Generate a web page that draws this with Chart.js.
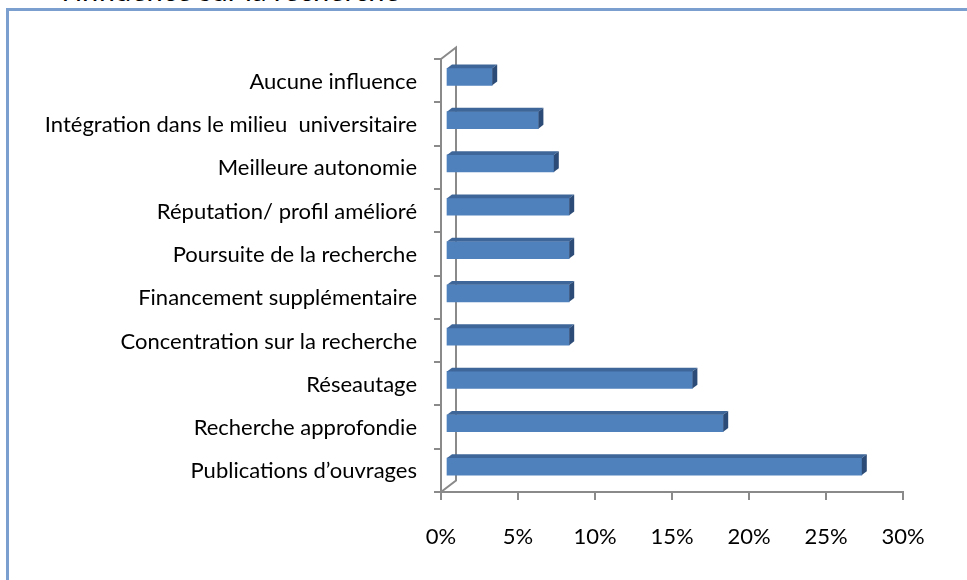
<!DOCTYPE html>
<html>
<head>
<meta charset="utf-8">
<script src="https://cdn.jsdelivr.net/npm/chart.js@4"></script>
<style>
    body { margin: 0; background: #fff; overflow: hidden; }
    #frame { position: absolute; left: 6px; top: 8px; width: 1200px; height: 800px;
             border-left: 3px solid #7b9fcf; border-top: 3px solid #7b9fcf; }
    #title { position: absolute; left: 62px; top: -25px; font: 29px/29px Lato, sans-serif; color: #000; white-space: nowrap; }
    #wrap { position: absolute; left: 0; top: 0; width: 967px; height: 580px; }
</style>
</head>
<body>
<div id="title">l’influence sur la recherche</div>
<div id="frame"></div>
<div id="wrap"><canvas id="myChart"></canvas></div>
<script>
const categories = [
    "Aucune influence",
    "Intégration dans le milieu  universitaire",
    "Meilleure autonomie",
    "Réputation/ profil amélioré",
    "Poursuite de la recherche",
    "Financement supplémentaire",
    "Concentration sur la recherche",
    "Réseautage",
    "Recherche approfondie",
    "Publications d’ouvrages"
];
const percentages = [3, 6, 7, 8, 8, 8, 8, 16, 18, 27];
const xTicks = [0, 5, 10, 15, 20, 25, 30];

const axisGray = '#8a8a8a';
// oblique depth of the 3D plot, and of the bars (one third of it)
const wallDx = 15, wallDy = -11.5;
const barDx = 5, barDy = -3.8;

// back wall line + the two slanted edges, drawn under the bars
const wallPlugin = {
    id: 'wall',
    beforeDatasetsDraw(chart) {
        const ctx = chart.ctx;
        const a = chart.chartArea;
        ctx.save();
        ctx.strokeStyle = axisGray;
        ctx.lineWidth = 2;
        ctx.beginPath();
        ctx.moveTo(a.left, a.top);
        ctx.lineTo(a.left + wallDx, a.top + wallDy);
        ctx.lineTo(a.left + wallDx, a.bottom + wallDy);
        ctx.lineTo(a.left, a.bottom);
        ctx.stroke();
        ctx.restore();
    }
};

// shift the front face back and add top and side faces
const bar3dPlugin = {
    id: 'bar3d',
    beforeDatasetDraw(chart) {
        chart.ctx.save();
        chart.ctx.translate(barDx, barDy);
    },
    afterDatasetDraw(chart, args) {
        const ctx = chart.ctx;
        args.meta.data.forEach(bar => {
            const { x, y, base, height } = bar.getProps(['x', 'y', 'base', 'height'], true);
            const top = y - height / 2;
            const bottom = y + height / 2;
            ctx.fillStyle = '#3e6699';
            ctx.beginPath();
            ctx.moveTo(base, top);
            ctx.lineTo(base + barDx, top + barDy);
            ctx.lineTo(x + barDx, top + barDy);
            ctx.lineTo(x, top);
            ctx.closePath();
            ctx.fill();
            ctx.fillStyle = '#2c4c77';
            ctx.beginPath();
            ctx.moveTo(x, top);
            ctx.lineTo(x + barDx, top + barDy);
            ctx.lineTo(x + barDx, bottom + barDy);
            ctx.lineTo(x, bottom);
            ctx.closePath();
            ctx.fill();
        });
        ctx.restore();
    }
};

const ctx = document.getElementById('myChart').getContext('2d');
const chart = new Chart(ctx, {
    type: 'bar',
    data: {
        labels: categories,
        datasets: [{
            data: percentages,
            backgroundColor: '#4f81bd',
            borderWidth: 0,
            barThickness: 17,
            clip: false
        }]
    },
    options: {
        indexAxis: 'y',
        responsive: true,
        maintainAspectRatio: false,
        animation: false,
        layout: { padding: { top: 59, right: 64, left: 0, bottom: 0 } },
        plugins: {
            legend: { display: false },
            tooltip: { enabled: false }
        },
        scales: {
            x: {
                min: 0,
                max: 30,
                afterBuildTicks(scale) {
                    scale.ticks = xTicks.map(v => ({ value: v }));
                },
                afterFit(scale) { scale.height = 88; },
                grid: { drawOnChartArea: false, color: axisGray, lineWidth: 2, tickLength: 8 },
                border: { color: axisGray, width: 2 },
                ticks: {
                    padding: 24,
                    color: '#000',
                    font: { family: 'Lato', size: 22 },
                    maxRotation: 0,
                    callback: v => v + '%'
                }
            },
            y: {
                afterFit(scale) { scale.width = 441; },
                grid: { drawOnChartArea: false, color: axisGray, lineWidth: 2, tickLength: 7, offset: true },
                border: { color: axisGray, width: 2 },
                ticks: {
                    padding: 17,
                    labelOffset: 1,
                    color: '#000',
                    font: { family: 'Lato', size: 22 }
                }
            }
        }
    },
    plugins: [wallPlugin, bar3dPlugin]
});
</script>
</body>
</html>
